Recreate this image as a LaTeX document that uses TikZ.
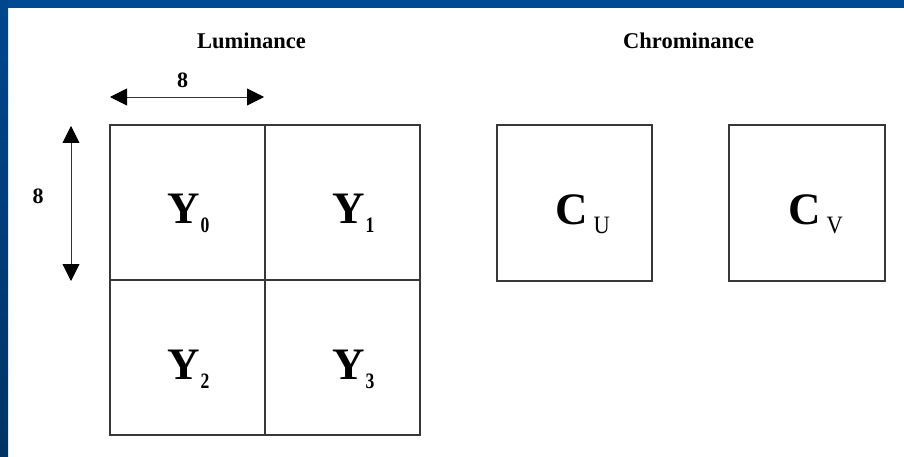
\documentclass[tikz,border=0pt]{standalone}
\usepackage{fontspec}
\setmainfont{Liberation Serif}
\usetikzlibrary{arrows.meta}
\definecolor{bandtop}{HTML}{004A94}
\definecolor{bandleftA}{HTML}{00468E}
\definecolor{bandleftB}{HTML}{003464}
\definecolor{boxline}{HTML}{383838}
\tikzset{
  cell/.style={draw=boxline, line width=1.1pt, inner sep=0pt, minimum width=#1, minimum height=155pt},
  biglabel/.style={anchor=base west, inner sep=0pt, font=\fontsize{45}{45}\selectfont\bfseries},
  title/.style={anchor=base west, inner sep=0pt, font=\fontsize{22.5}{22.5}\selectfont\bfseries},
  dimtext/.style={anchor=base, inner sep=0pt, font=\fontsize{22}{22}\selectfont\bfseries},
  dimarrow/.style={line width=0.9pt, draw=black!80, {Triangle[length=17pt,width=17pt,fill=black,color=black]}-{Triangle[length=17pt,width=17pt,fill=black,color=black]}}
}
\newcommand{\ysub}[1]{Y\kern1pt\raisebox{-9pt}{\scalebox{0.8}[1]{\fontsize{22}{22}\selectfont\bfseries #1}}}
\newcommand{\csub}[1]{C\kern6pt\raisebox{-9pt}{\scalebox{0.9}[1]{\fontsize{25}{25}\selectfont\mdseries #1}}}
\begin{document}
\begin{tikzpicture}[x=1pt,y=-1pt]
\useasboundingbox (0,0) rectangle (904,457);
\fill[white] (0,0) rectangle (904,457);
\fill[bandtop] (0,0) rectangle (904,8);
\shade[top color=bandleftA, bottom color=bandleftB] (0,0) rectangle (8,457);
% titles
\node[title] (lum) at (197,49) {Luminance};
\node[title] (chr) at (623,49) {Chrominance};
% luminance grid
\node[cell=155pt] (c0) at (187.5,202.5) {};
\node[cell=155pt] (c1) at (342.5,202.5) {};
\node[cell=155pt] (c2) at (187.5,357.5) {};
\node[cell=155pt] (c3) at (342.5,357.5) {};
\node[biglabel] (y0) at (167,223) {\ysub{0}};
\node[biglabel] (y1) at (332,223) {\ysub{1}};
\node[biglabel] (y2) at (167,379) {\ysub{2}};
\node[biglabel] (y3) at (332,379) {\ysub{3}};
% chrominance
\node[cell=155pt, minimum height=156pt] (cu) at (574.5,203) {};
\node[cell=156pt, minimum height=156pt] (cv) at (807,203) {};
\node[biglabel] (cul) at (555,224) {\csub{U}};
\node[biglabel] (cvl) at (788,224) {\csub{V}};
% dimension arrows
\coordinate (hl) at (110,97);
\coordinate (hr) at (264,97);
\coordinate (vt) at (71,126);
\coordinate (vb) at (71,281);
\draw[dimarrow] (hl) -- (hr);
\draw[dimarrow] (vt) -- (vb);
\node[dimtext] (h8) at (182.5,88) {8};
\node[dimtext] (v8) at (38,203) {8};
\end{tikzpicture}
\end{document}
